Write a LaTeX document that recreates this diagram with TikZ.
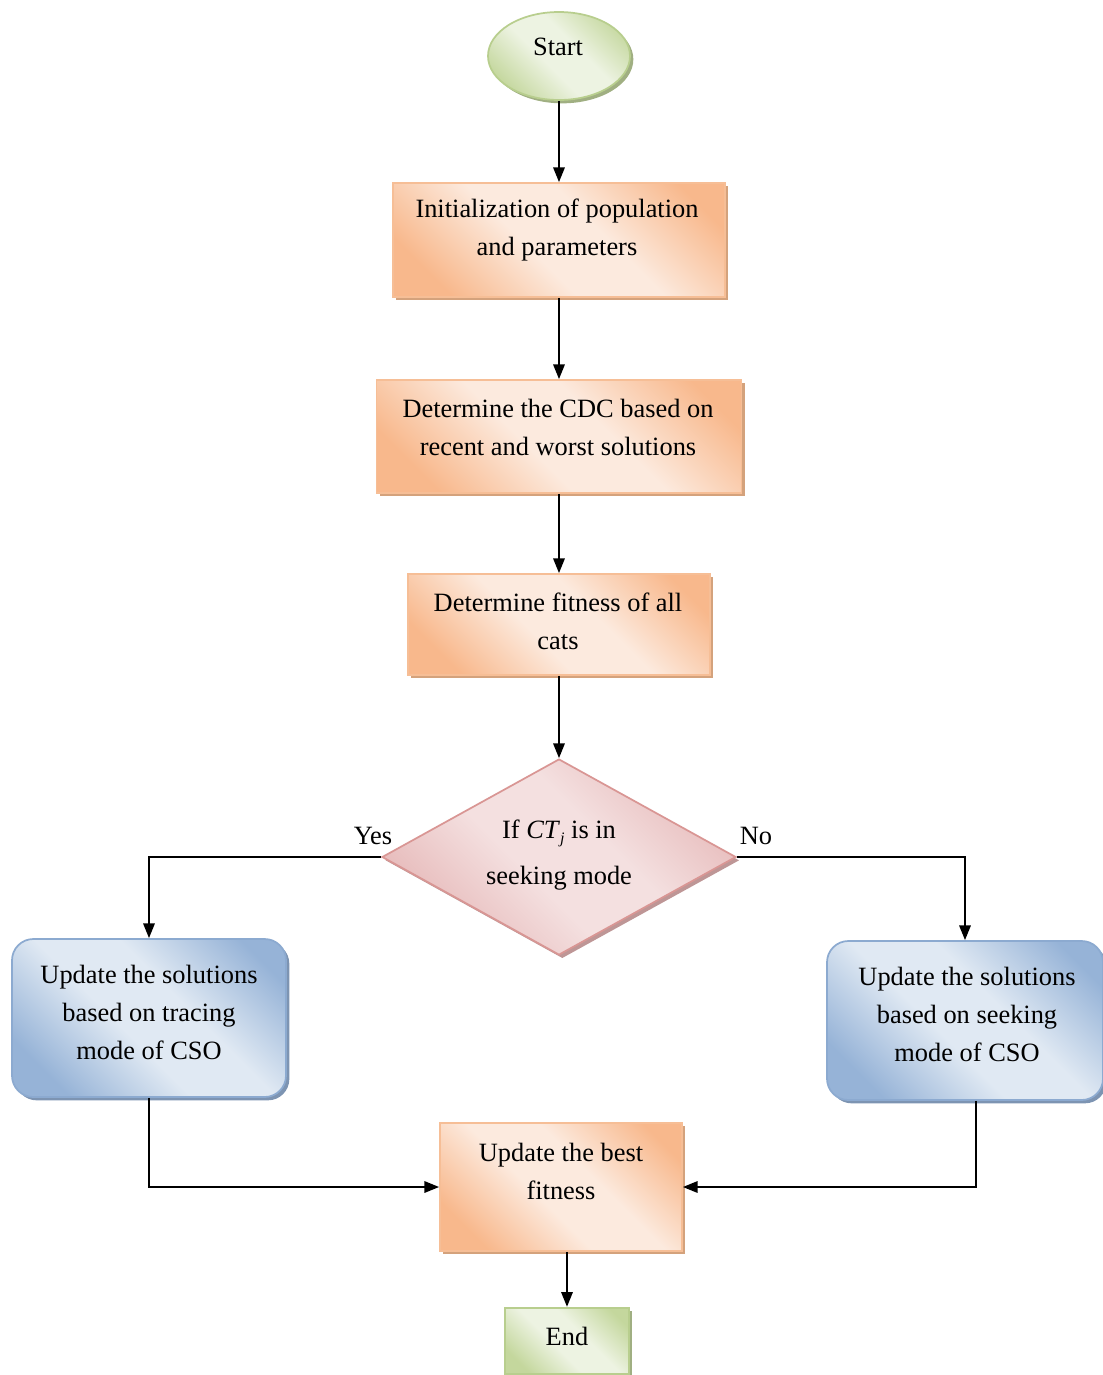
\documentclass[tikz,border=0pt]{standalone}
\usepackage{fontspec}
\setmainfont{Liberation Serif}
\usetikzlibrary{arrows.meta,shapes.geometric,shadows,calc}

% palette
\definecolor{OrDark}{RGB}{248,184,140}
\definecolor{OrLight}{RGB}{252,234,222}
\definecolor{OrLine}{RGB}{246,190,150}
\definecolor{OrShadow}{RGB}{212,162,124}
\definecolor{BlDark}{RGB}{150,179,215}
\definecolor{BlLight}{RGB}{224,233,243}
\definecolor{BlLine}{RGB}{140,170,208}
\definecolor{BlShadow}{RGB}{125,148,178}
\definecolor{GrDark}{RGB}{196,215,157}
\definecolor{GrLight}{RGB}{237,243,226}
\definecolor{GrLine}{RGB}{184,206,142}
\definecolor{GrShadow}{RGB}{160,175,130}
\definecolor{PkDark}{RGB}{229,182,182}
\definecolor{PkLight}{RGB}{244,224,224}
\definecolor{PkLine}{RGB}{217,150,148}
\definecolor{PkShadow}{RGB}{190,150,150}

% diagonal fills: darker at two opposite corners, light across the middle
\pgfdeclareverticalshading{orshade}{100bp}{color(0bp)=(OrDark); color(24bp)=(OrDark); color(44bp)=(OrLight); color(58bp)=(OrLight); color(78bp)=(OrDark); color(100bp)=(OrDark)}
\pgfdeclareverticalshading{blshade}{100bp}{color(0bp)=(BlDark); color(24bp)=(BlDark); color(44bp)=(BlLight); color(58bp)=(BlLight); color(78bp)=(BlDark); color(100bp)=(BlDark)}
\pgfdeclareverticalshading{grshade}{100bp}{color(0bp)=(GrDark); color(24bp)=(GrDark); color(44bp)=(GrLight); color(58bp)=(GrLight); color(78bp)=(GrDark); color(100bp)=(GrDark)}
\pgfdeclareverticalshading{pkshade}{100bp}{color(0bp)=(PkDark); color(24bp)=(PkDark); color(44bp)=(PkLight); color(58bp)=(PkLight); color(78bp)=(PkDark); color(100bp)=(PkDark)}

\tikzset{
  base/.style={inner sep=0pt, line width=1.3pt},
  obox/.style={base, rectangle, draw=OrLine, shading=orshade, shading angle=-45,
    general shadow={fill=OrShadow, draw=none, shadow xshift=2.5pt, shadow yshift=-2.5pt}},
  bbox/.style={base, rectangle, rounded corners=16pt, draw=BlLine, shading=blshade, shading angle=-45,
    general shadow={fill=BlShadow, draw=none, shadow xshift=2.5pt, shadow yshift=-2.5pt}},
  gbox/.style={base, draw=GrLine, shading=grshade, shading angle=-45,
    general shadow={fill=GrShadow, draw=none, shadow xshift=2.5pt, shadow yshift=-2.5pt}},
  dbox/.style={base, diamond, draw=PkLine, shading=pkshade, shading angle=-45,
    general shadow={fill=PkShadow, draw=none, shadow xshift=2.5pt, shadow yshift=-2.5pt}},
  txt/.style={align=center, inner sep=0pt, font=\fontsize{19.8}{28.5}\selectfont},
  arr/.style={-{Triangle[length=11pt,width=8.5pt]}, line width=1.5pt},
}

\begin{document}
\begin{tikzpicture}[x=0.75pt,y=-0.75pt]
\useasboundingbox (0,0) rectangle (1103,1375);

% shapes
\node[gbox, ellipse, minimum width=106.5pt, minimum height=66pt] (start) at (559,56) {};
\node[obox, minimum width=249pt, minimum height=85.5pt] (init) at (559,240) {};
\node[obox, minimum width=273.75pt, minimum height=84.75pt] (cdc) at (559,436.5) {};
\node[obox, minimum width=226.5pt, minimum height=75.75pt] (fit) at (559,624.5) {};
\node[dbox, minimum width=265.5pt, minimum height=147pt] (dia) at (559,857) {};
\node[bbox, minimum width=205.5pt, minimum height=118.5pt] (trace) at (149,1018) {};
\node[bbox, minimum width=207pt, minimum height=119.25pt] (seek) at (965,1020.5) {};
\node[obox, minimum width=181.5pt, minimum height=96pt] (best) at (561,1187) {};
\node[gbox, rectangle, minimum width=93pt, minimum height=50pt] (end) at (567,1341) {};

% texts
\node[txt] (tstart) at (558,47) {Start};
\node[txt] (tinit) at (557,230) {Initialization of population\\and parameters};
\node[txt] (tcdc) at (558,427) {Determine the CDC based on\\recent and worst solutions};
\node[txt] (tfit) at (558,621) {Determine fitness of all\\cats};
\node[txt] (tdia) at (559,855) {If \textit{CT}\raisebox{-0.45ex}{\fontsize{12}{12}\selectfont\textit{j}} is in\\[6pt]seeking mode};
\node[txt] (ttrace) at (149,1012) {Update the solutions\\based on tracing\\mode of CSO};
\node[txt] (tseek) at (967,1014) {Update the solutions\\based on seeking\\mode of CSO};
\node[txt] (tbest) at (561,1171) {Update the best\\fitness};
\node[txt] (tend) at (567,1336) {End};
\node[txt] (yes) at (373,836) {Yes};
\node[txt] (no) at (756,836) {No};

% connectors
\draw[arr] (start.south) -- (init.north);
\draw[arr] (init.south) -- (cdc.north);
\draw[arr] (cdc.south) -- (fit.north);
\draw[arr] (fit.south) -- (dia.north);
\draw[arr] (dia.west) -| (trace.north);
\draw[arr] (dia.east) -| (seek.north);
\draw[arr] (trace.south) |- (best.west);
\draw[arr] ($(seek.south)+(11,0)$) |- (best.east);
\draw[arr] (best.south -| end.north) -- (end.north);
\end{tikzpicture}
\end{document}
